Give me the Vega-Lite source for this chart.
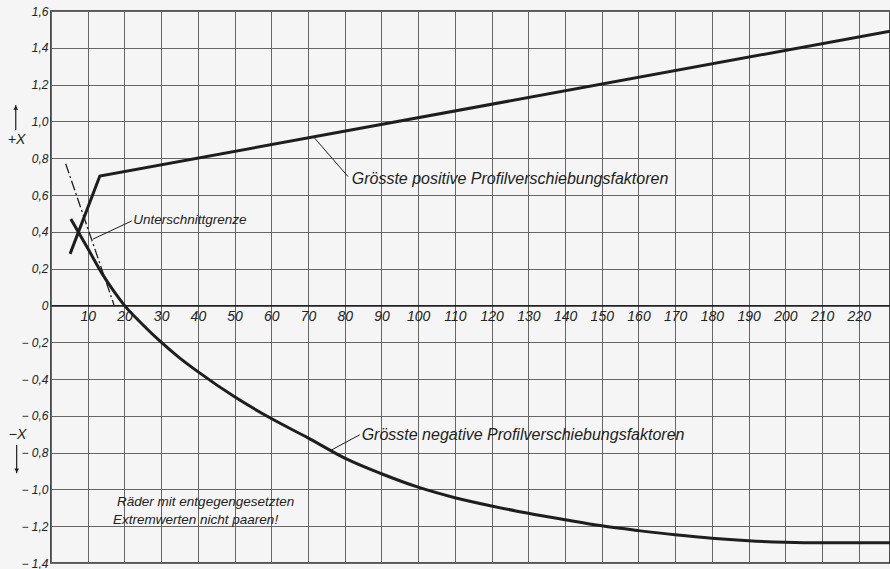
{
  "$schema": "https://vega.github.io/schema/vega-lite/v6.json",
  "width": 839,
  "height": 552,
  "autosize": {"type": "none"},
  "padding": {"left": 51, "top": 11, "right": 0, "bottom": 6},
  "background": "#f5f5f5",
  "config": {
    "view": {"stroke": "#222222", "strokeWidth": 1.6},
    "font": "Liberation Sans",
    "axis": {"labelColor": "#222222", "labelFont": "Liberation Sans", "labelFontStyle": "italic"}
  },
  "datasets": {
    "pos": [
      {"z": 5.2, "x": 0.28},
      {"z": 13.3, "x": 0.703},
      {"z": 228.5, "x": 1.49}
    ],
    "neg": [
      {"z": 5.4, "x": 0.47},
      {"z": 7.4, "x": 0.4},
      {"z": 10, "x": 0.31},
      {"z": 14, "x": 0.17},
      {"z": 17, "x": 0.08},
      {"z": 20, "x": 0.0},
      {"z": 25, "x": -0.105},
      {"z": 30, "x": -0.2},
      {"z": 35, "x": -0.285},
      {"z": 40, "x": -0.36},
      {"z": 50, "x": -0.497},
      {"z": 60, "x": -0.615},
      {"z": 70, "x": -0.72},
      {"z": 80, "x": -0.83},
      {"z": 90, "x": -0.915},
      {"z": 100, "x": -0.988},
      {"z": 110, "x": -1.045},
      {"z": 120, "x": -1.09},
      {"z": 130, "x": -1.13},
      {"z": 140, "x": -1.165},
      {"z": 150, "x": -1.198},
      {"z": 160, "x": -1.224},
      {"z": 170, "x": -1.247},
      {"z": 180, "x": -1.266},
      {"z": 190, "x": -1.279},
      {"z": 200, "x": -1.287},
      {"z": 210, "x": -1.29},
      {"z": 220, "x": -1.29},
      {"z": 228.5, "x": -1.29}
    ],
    "under": [
      {"z": 4, "x": 0.77},
      {"z": 17.2, "x": 0.0}
    ],
    "leaders": [
      {"z": 22.0, "x": 0.459, "z2": 11.4, "x2": 0.36},
      {"z": 71.5, "x": 0.916, "z2": 80.9, "x2": 0.7},
      {"z": 76, "x": -0.79, "z2": 84.1, "x2": -0.703}
    ],
    "labelsLarge": [
      {"z": 81.9, "x": 0.685, "text": "Grösste positive Profilverschiebungsfaktoren"},
      {"z": 84.6, "x": -0.704, "text": "Grösste negative Profilverschiebungsfaktoren"}
    ],
    "labelsSmall": [
      {"z": 22.4, "x": 0.463, "text": "Unterschnittgrenze"},
      {"z": 18.0, "x": -1.068, "text": "Räder mit entgegengesetzten"},
      {"z": 16.9, "x": -1.169, "text": "Extremwerten nicht paaren!"}
    ],
    "axisTitles": [
      {"z": -9.4, "x": 0.899, "text": "+X"},
      {"z": -9.1, "x": -0.703, "text": "−X"}
    ],
    "arrows": [
      {"z": -9.6, "x": 0.953, "x2": 1.089},
      {"z": -9.35, "x": -0.759, "x2": -0.912}
    ],
    "heads": [
      {"z": -9.6, "x": 1.074, "dir": "up"},
      {"z": -9.35, "x": -0.897, "dir": "down"}
    ]
  },
  "encoding": {
    "y": {
      "field": "x", "type": "quantitative",
      "scale": {"domain": [-1.4, 1.6], "nice": false, "zero": false},
      "axis": {
        "orient": "left", "grid": true, "ticks": false, "tickSize": 0, "domain": false, "title": null,
        "values": [-1.4, -1.2, -1.0, -0.8, -0.6, -0.4, -0.2, 0, 0.2, 0.4, 0.6, 0.8, 1.0, 1.2, 1.4, 1.6],
        "labelExpr": "datum.value == 0 ? '0' : (datum.value < 0 ? '− ' : '') + replace(format(abs(datum.value), '.1f'), '.', ',')",
        "labelPadding": 3, "labelFontSize": 12, "labelFontStyle": "italic", "labelColor": "#222222",
        "labelBaseline": "middle", "labelFlush": false, "labelOverlap": false,
        "gridColor": "#666666", "gridWidth": 1, "gridOpacity": 1
      }
    }
  },
  "layer": [
    {
      "data": {"name": "pos"},
      "mark": {"type": "line", "color": "#1e1e1e", "strokeWidth": 3},
      "encoding": {
        "x": {
          "field": "z", "type": "quantitative",
          "scale": {"domain": [0, 228.5], "nice": false, "zero": false},
          "axis": {
            "orient": "top", "grid": true, "labels": false, "ticks": false, "domain": false, "title": null,
            "values": [0, 10, 20, 30, 40, 50, 60, 70, 80, 90, 100, 110, 120, 130, 140, 150, 160, 170, 180, 190, 200, 210, 220],
            "gridColor": "#666666", "gridWidth": 1, "gridOpacity": 1
          }
        }
      }
    },
    {
      "data": {"name": "neg"},
      "mark": {"type": "line", "color": "#1e1e1e", "strokeWidth": 3, "interpolate": "monotone"},
      "encoding": {
        "x": {
          "field": "z", "type": "quantitative",
          "axis": {
            "orient": "bottom", "offset": -257.6, "grid": false, "ticks": false, "tickSize": 0, "title": null,
            "domain": true, "domainColor": "#222222", "domainWidth": 1.6,
            "values": [10, 20, 30, 40, 50, 60, 70, 80, 90, 100, 110, 120, 130, 140, 150, 160, 170, 180, 190, 200, 210, 220],
            "format": "d", "labelPadding": 4, "labelFontSize": 14, "labelFontStyle": "italic", "labelColor": "#222222",
            "labelFlush": false, "labelOverlap": false
          }
        }
      }
    },
    {
      "data": {"name": "under"},
      "mark": {"type": "line", "color": "#1e1e1e", "strokeWidth": 1.3, "strokeDash": [10, 3, 2, 3]},
      "encoding": {
        "x": {"field": "z", "type": "quantitative", "axis": null}
      }
    },
    {
      "data": {"name": "leaders"},
      "mark": {"type": "rule", "color": "#1e1e1e", "strokeWidth": 1},
      "encoding": {
        "x": {"field": "z", "type": "quantitative", "axis": null},
        "x2": {"field": "z2"},
        "y2": {"field": "x2"}
      }
    },
    {
      "data": {"name": "arrows"},
      "mark": {"type": "rule", "color": "#1e1e1e", "strokeWidth": 1.2, "clip": false},
      "encoding": {
        "x": {"field": "z", "type": "quantitative", "axis": null},
        "y2": {"field": "x2"}
      }
    },
    {
      "data": {"name": "heads"},
      "mark": {"type": "point", "filled": true, "color": "#1e1e1e", "size": 22, "opacity": 1},
      "encoding": {
        "x": {"field": "z", "type": "quantitative", "axis": null},
        "shape": {"field": "dir", "type": "nominal", "scale": {"domain": ["up", "down"], "range": ["triangle-up", "triangle-down"]}, "legend": null}
      }
    },
    {
      "data": {"name": "axisTitles"},
      "mark": {"type": "text", "fontSize": 14, "fontStyle": "italic", "color": "#222222", "align": "center", "baseline": "middle"},
      "encoding": {
        "x": {"field": "z", "type": "quantitative", "axis": null},
        "text": {"field": "text"}
      }
    },
    {
      "data": {"name": "labelsLarge"},
      "mark": {"type": "text", "fontSize": 16, "fontStyle": "italic", "color": "#222222", "align": "left", "baseline": "middle"},
      "encoding": {
        "x": {"field": "z", "type": "quantitative", "axis": null},
        "text": {"field": "text"}
      }
    },
    {
      "data": {"name": "labelsSmall"},
      "mark": {"type": "text", "fontSize": 13.5, "fontStyle": "italic", "color": "#222222", "align": "left", "baseline": "middle"},
      "encoding": {
        "x": {"field": "z", "type": "quantitative", "axis": null},
        "text": {"field": "text"}
      }
    }
  ],
  "resolve": {"axis": {"x": "independent"}}
}
